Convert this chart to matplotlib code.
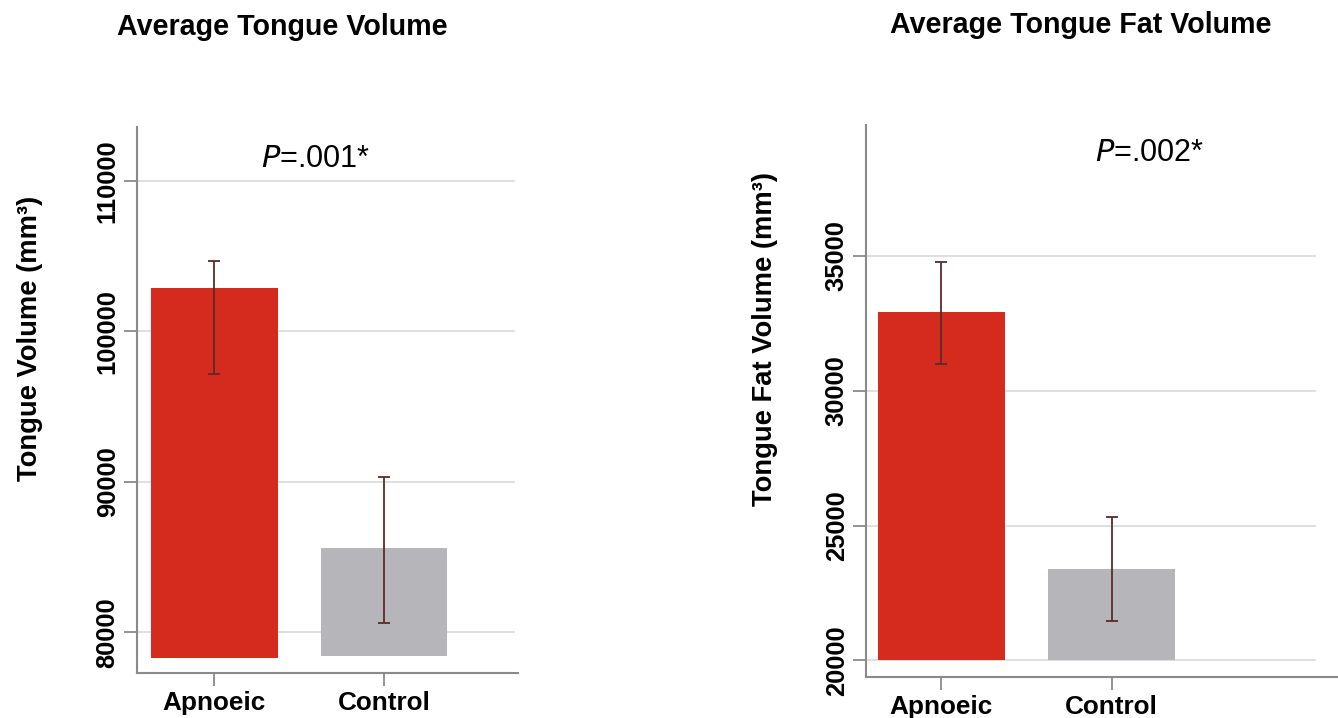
import matplotlib.pyplot as plt

plt.rcParams['font.family'] = ['Liberation Sans', 'DejaVu Sans']

groups = ["Apnoeic", "Control"]
colors = ["#D52B1E", "#B6B5BA"]

# tongue volume (mm3)
vol_mean = [102900, 85610]
vol_lo = [97160, 80620]
vol_hi = [104680, 90290]
vol_base = [78300, 78450]
vol_ticks = [80000, 90000, 100000, 110000]

# tongue fat volume (mm3)
fat_mean = [32900, 23400]
fat_lo = [30970, 21470]
fat_hi = [34780, 25310]
fat_base = [20000, 20000]
fat_ticks = [20000, 25000, 30000, 35000]

W, H = 1338, 718
fig = plt.figure(figsize=(W / 100, H / 100), dpi=100)

ax1 = fig.add_axes([137 / W, 1 - 672.7 / H, 381 / W, 546 / H])
ax2 = fig.add_axes([866 / W, 1 - 676.7 / H, 472 / W, 552 / H])


def draw(ax, mean, lo, hi, base, ticks, ylim, xlim, gridend, ptext, pxy):
    x = list(range(len(groups)))
    heights = [m - b for m, b in zip(mean, base)]
    ax.bar(x, heights, bottom=base, width=0.745, color=colors, zorder=2)
    err = [[m - l for m, l in zip(mean, lo)], [h - m for m, h in zip(mean, hi)]]
    ax.errorbar(x, mean, yerr=err, fmt="none", ecolor="#5A2B2B",
                elinewidth=1.3, capsize=4, capthick=1.3, zorder=3)
    for t in ticks:
        ax.axhline(t, xmax=gridend, color="#DCDCDC", linewidth=1.3, zorder=0)
    ax.set_yticks(ticks)
    ax.set_ylim(*ylim)
    ax.set_xlim(*xlim)
    ax.set_xticks(x)
    ax.set_xticklabels(groups, fontsize=18.8, fontweight="bold")
    for lab in ax.get_yticklabels():
        lab.set_rotation(90)
        lab.set_verticalalignment("center")
        lab.set_fontsize(18.4)
        lab.set_fontweight("bold")
    for s in ["top", "right"]:
        ax.spines[s].set_visible(False)
    for s in ["left", "bottom"]:
        ax.spines[s].set_color("#8A8A8A")
        ax.spines[s].set_linewidth(1.5)
    ax.tick_params(axis="both", length=9.5, width=1.3, color="#8A8A8A")
    ax.tick_params(axis="y", pad=3)
    ax.tick_params(axis="x", pad=4)
    ax.text(pxy[0], pxy[1], r"$\it{P}$" + "=.00" + ptext + "*",
            fontsize=22, ha="center", va="center")


draw(ax1, vol_mean, vol_lo, vol_hi, vol_base, vol_ticks,
     (77310, 113610), (-0.456, 1.79), 0.99, "1", (0.596, 111450))
draw(ax2, fat_mean, fat_lo, fat_hi, fat_base, fat_ticks,
     (19395, 39860), (-0.443, 2.33), 0.951, "2", (1.22, 38800))

fig.text(282 / W, 1 - 27 / H, "Average Tongue Volume", fontsize=20.6,
         fontweight="bold", ha="center", va="center")
fig.text(1081 / W, 1 - 25 / H, "Average Tongue Fat Volume", fontsize=20.6,
         fontweight="bold", ha="center", va="center")
fig.text(30 / W, 1 - 338 / H, "Tongue Volume (mm³)", fontsize=19.7,
         fontweight="bold", rotation=90, ha="center", va="center")
fig.text(765 / W, 1 - 339 / H, "Tongue Fat Volume (mm³)", fontsize=19.7,
         fontweight="bold", rotation=90, ha="center", va="center")

fig.savefig("out.png", dpi=100)
